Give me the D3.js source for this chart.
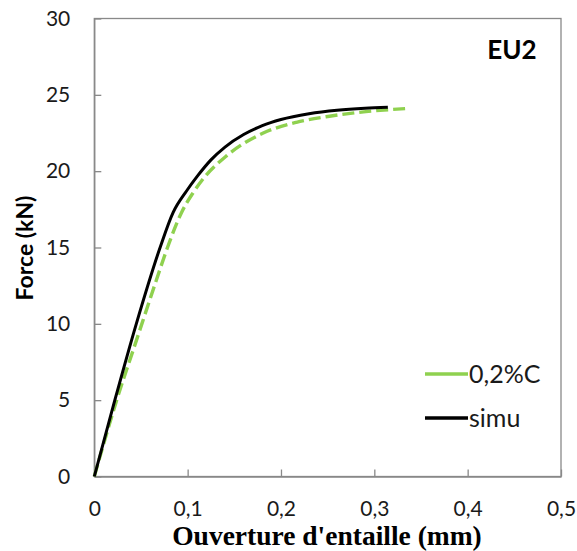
<!DOCTYPE html>
<html><head><meta charset="utf-8">
<script src="https://cdn.jsdelivr.net/npm/d3@7"></script>
<style>body{margin:0;background:#fff}svg{display:block}</style>
</head><body>
<svg id="c" width="577" height="551"></svg>
<script>
// Data
const simuX = [0, 0.022, 0.045, 0.0705, 0.0845, 0.0988, 0.11, 0.125, 0.14, 0.16, 0.18, 0.2, 0.23, 0.26, 0.29, 0.3145];
const simuF = [0, 5, 10, 15, 17.3, 18.7, 19.64, 20.74, 21.58, 22.4, 22.98, 23.38, 23.76, 23.99, 24.12, 24.18];
const expX = [0, 0.024, 0.0453, 0.0667, 0.079, 0.0935, 0.106, 0.1166, 0.1416, 0.181, 0.2165, 0.252, 0.291, 0.334];
const expF = [0, 5, 8.95, 12.9, 15.1, 17.3, 18.6, 19.5, 21.0, 22.5, 23.2, 23.6, 23.9, 24.1];
const xTicks = [0, 0.1, 0.2, 0.3, 0.4, 0.5];
const yTicks = [0, 5, 10, 15, 20, 25, 30];
const seriesNames = ["0,2%C", "simu"];

const svg = d3.select("#c");
const L = 94.3, R = 561, T = 18.5, B = 476.5;
const x = d3.scaleLinear().domain([0, 0.5]).range([L, R]);
const y = d3.scaleLinear().domain([0, 30]).range([B, T]);
const axisCol = "#898989";
const fmt = d => d3.format(".1~f")(d).replace(".", ",");

// frame
svg.append("rect").attr("x", L).attr("y", T).attr("width", R - L).attr("height", B - T)
  .attr("fill", "none").attr("stroke", axisCol).attr("stroke-width", 1.3);

// axes
const xa = svg.append("g").attr("transform", `translate(0,${B})`)
  .call(d3.axisBottom(x).tickValues(xTicks).tickSizeInner(-7).tickSizeOuter(0).tickPadding(25).tickFormat(fmt));
const ya = svg.append("g").attr("transform", `translate(${L},0)`)
  .call(d3.axisLeft(y).tickValues(yTicks).tickSizeInner(-7).tickSizeOuter(0).tickPadding(24).tickFormat(d => d));
[xa, ya].forEach(a => {
  a.select(".domain").attr("stroke", axisCol).attr("stroke-width", 1.3);
  a.selectAll(".tick line").attr("stroke", axisCol).attr("stroke-width", 1.3);
  a.selectAll(".tick text").attr("font-family", "Lato, 'Open Sans', sans-serif").attr("font-size", 21).attr("fill", "#1a1a1a");
});

// lines
const line = d3.line().x(d => x(d[0])).y(d => y(d[1])).curve(d3.curveMonotoneX);
const expData = expX.map((v, i) => [v, expF[i]]);
const simuData = simuX.map((v, i) => [v, simuF[i]]);
svg.append("path").datum(expData).attr("d", line).attr("fill", "none")
  .attr("stroke", "#8fd14f").attr("stroke-width", 3.4).attr("stroke-dasharray", "12,5");
svg.append("path").datum(simuData).attr("d", line).attr("fill", "none")
  .attr("stroke", "#000").attr("stroke-width", 3);

// legend
const legY = [374, 418];
const legCol = ["#8fd14f", "#000"];
seriesNames.forEach((n, i) => {
  svg.append("line").attr("x1", 425).attr("x2", 468).attr("y1", legY[i]).attr("y2", legY[i])
    .attr("stroke", legCol[i]).attr("stroke-width", 3.4);
  svg.append("text").attr("x", 469).attr("y", legY[i]).attr("dy", "0.35em")
    .attr("font-family", "Lato, 'Open Sans', sans-serif").attr("font-size", 25).attr("fill", "#1a1a1a").text(n);
});

// labels
svg.append("text").attr("x", 512).attr("y", 59).attr("text-anchor", "middle")
  .attr("font-family", "Lato, 'Open Sans', sans-serif").attr("font-weight", "bold").attr("font-size", 26).text("EU2");
svg.append("text").attr("x", 327).attr("y", 545).attr("text-anchor", "middle")
  .attr("font-family", "'Liberation Serif', 'Times New Roman', serif").attr("font-weight", "bold").attr("font-size", 27.5).text("Ouverture d'entaille (mm)");
svg.append("text").attr("transform", "translate(33,248) rotate(-90)").attr("text-anchor", "middle")
  .attr("font-family", "Lato, 'Open Sans', sans-serif").attr("font-weight", "bold").attr("font-size", 23).text("Force (kN)");
</script>
</body></html>
